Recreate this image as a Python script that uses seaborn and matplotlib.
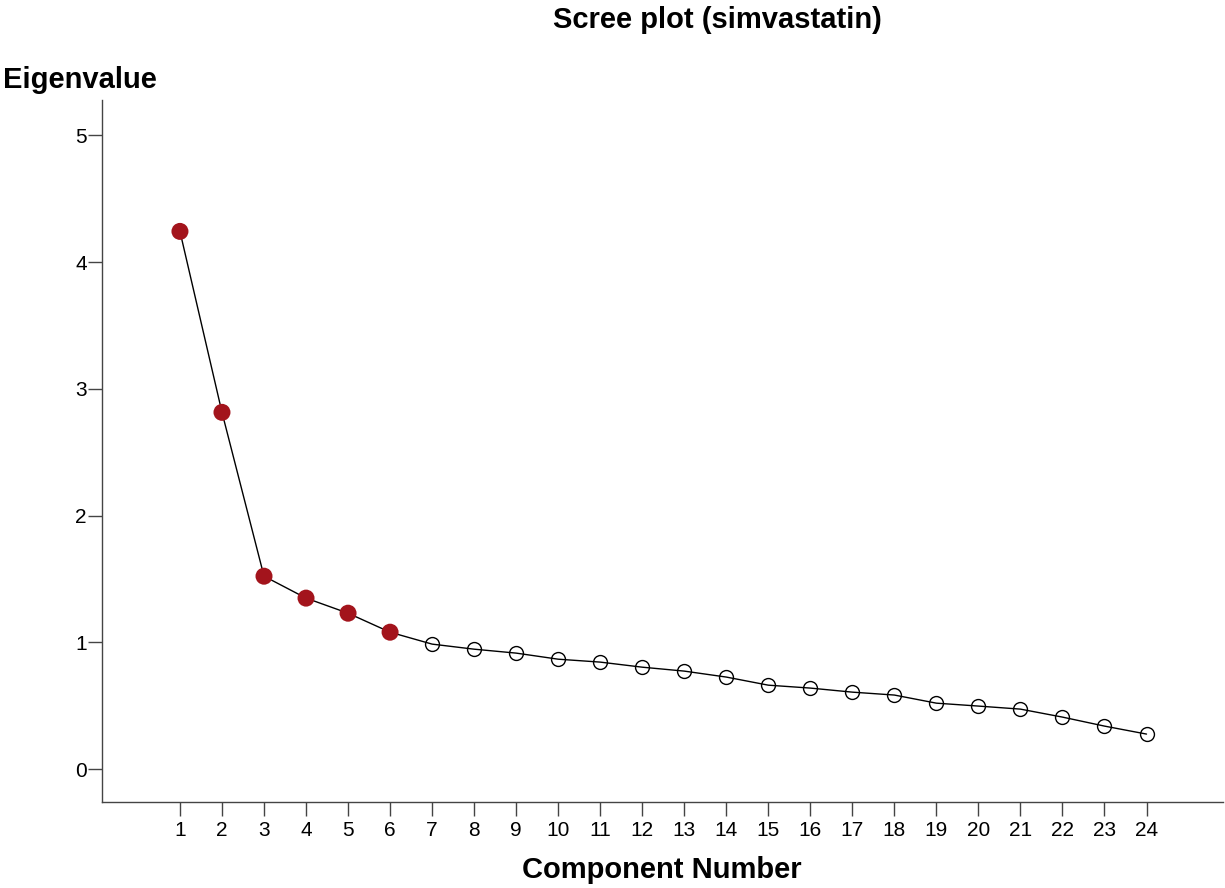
import matplotlib
matplotlib.use("Agg")
import matplotlib.pyplot as plt
import seaborn as sns
import pandas as pd

components = list(range(1, 25))
eigenvalues = [4.243, 2.815, 1.522, 1.349, 1.230, 1.080, 0.986, 0.946, 0.915, 0.867,
               0.844, 0.804, 0.773, 0.726, 0.662, 0.639, 0.607, 0.584, 0.520, 0.497,
               0.473, 0.410, 0.339, 0.276]
retained = [True] * 6 + [False] * 18

df = pd.DataFrame({"Component": components, "Eigenvalue": eigenvalues, "Retained": retained})

sns.set_theme(style="white")
plt.rcParams['font.family'] = ['Liberation Sans', 'DejaVu Sans']
plt.rcParams['text.color'] = 'black'
plt.rcParams['xtick.color'] = 'black'
plt.rcParams['ytick.color'] = 'black'

fig = plt.figure(figsize=(12.25, 8.88), dpi=100)
ax = fig.add_axes([102/1225, 1 - 802/888, 1121/1225, (802-100)/888])

sns.lineplot(data=df, x="Component", y="Eigenvalue", color="black", linewidth=1.0, ax=ax, zorder=2)
ax.plot(df.loc[~df.Retained, "Component"], df.loc[~df.Retained, "Eigenvalue"], 'o',
        markersize=10, markerfacecolor='none', markeredgecolor='black', markeredgewidth=1.0, zorder=3)
sns.scatterplot(data=df[df.Retained], x="Component", y="Eigenvalue", color="#a3141c",
                s=150, edgecolor="none", ax=ax, zorder=4)

ax.set_xlim(-0.855, 25.82)
ax.set_ylim(-0.26, 5.28)
ax.set_xticks(components)
ax.set_yticks([0, 1, 2, 3, 4, 5])
ax.tick_params(axis='both', labelsize=15, length=10, width=1, color='#444444', labelcolor='black',
               direction='out', bottom=True, left=True)
ax.tick_params(axis='x', pad=4)
ax.tick_params(axis='y', pad=1)
for s in ['top', 'right']:
    ax.spines[s].set_visible(False)
for s in ['left', 'bottom']:
    ax.spines[s].set_color('#444444')
    ax.spines[s].set_linewidth(1)
ax.set_xlabel("")
ax.set_ylabel("")

fig.text(717/1225, 1 - 20/888, "Scree plot (simvastatin)", ha='center', va='center',
         fontsize=21, fontweight='bold', color='black')
fig.text(3/1225, 1 - 80/888, "Eigenvalue", ha='left', va='center', fontsize=21,
         fontweight='bold', color='black')
fig.text(662/1225, 1 - 870/888, "Component Number", ha='center', va='center',
         fontsize=21, fontweight='bold', color='black')

fig.savefig("out.png", dpi=100)
